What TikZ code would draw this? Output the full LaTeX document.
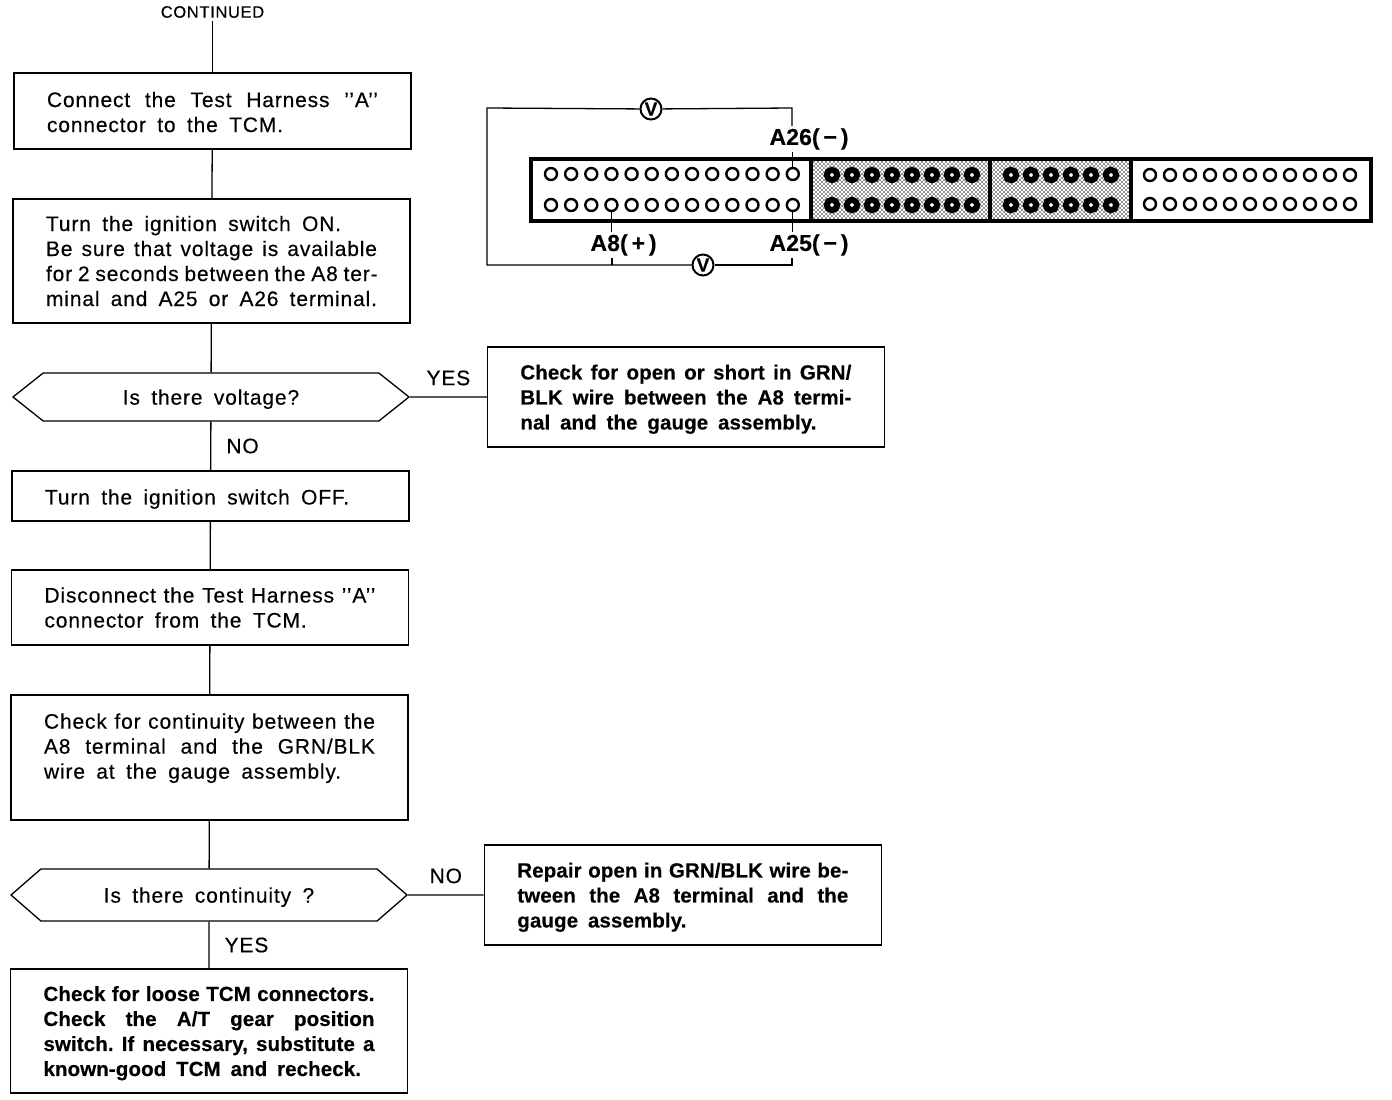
\documentclass[tikz,border=0pt]{standalone}
\usepackage{fontspec}
\setmainfont{Liberation Sans}[LetterSpace=4,FakeBold=0.3,WordSpace={1.7,1,2.5},
  BoldFeatures={LetterSpace=0.5,FakeBold=0.3,WordSpace={1.7,1,2.5}}]
\usetikzlibrary{positioning,shapes.symbols,patterns}
\pgfdeclarepatternformonly{grit}{\pgfqpoint{-1pt}{-1pt}}{\pgfqpoint{3pt}{3pt}}{\pgfqpoint{4pt}{4pt}}{
  \pgfpathrectangle{\pgfqpoint{-0.7pt}{-0.7pt}}{\pgfqpoint{1.4pt}{1.4pt}}
  \pgfpathrectangle{\pgfqpoint{1.3pt}{1.3pt}}{\pgfqpoint{1.4pt}{1.4pt}}
  \pgfusepath{fill}}
\tolerance=9999
\frenchspacing

\begin{document}
\begin{tikzpicture}%
  [x=1pt,y=-1pt,node distance=48.7pt,
   txt/.style=
    {font=\fontsize{21}{25}\selectfont},
   drop/.style={execute at begin node={\rule{0pt}{#1}}},
   step box/.style=
    {draw,txt,line width=1.3pt,text width=331pt,inner xsep=33pt,inner ysep=0pt,align=justify},
   fix box/.style=
    {step box,drop=19.3pt,font=\fontsize{20.5}{25}\selectfont\bfseries},
   question/.style=
    {draw,txt,line width=1.3pt,shape=signal,signal to=east and west,signal pointer angle=77,
     minimum width=396pt,minimum height=48pt,inner ysep=0pt,inner xsep=0pt,text depth=0pt},
   flow/.style={line width=1.3pt},
   answer/.style={txt,inner xsep=15pt,inner ysep=11pt},
   terminal/.style={font=\fontsize{23}{25}\selectfont\bfseries,inner xsep=0pt,inner ysep=2pt},
   volt/.style=
    {draw,circle,fill=white,line width=2pt,minimum size=21pt,inner sep=0pt,
     font=\fontsize{19}{19}\selectfont\bfseries},
   hole/.style={draw,circle,line width=2.4pt,minimum size=12pt,inner sep=0pt},
   dark hole/.style={draw,circle,fill=white,line width=6pt,minimum size=10.5pt,inner sep=0pt}
  ]
  \useasboundingbox (0,0) rectangle (1392,1100);
  % flow chart
  \node[font=\fontsize{16.5}{16.5}\selectfont,inner sep=3pt] (cont) at (212.5,12) {CONTINUED};
  \node[step box,drop=17.3pt,minimum height=76pt] (connect) at (212.5,111)
    {Connect the Test Harness '{}'A'{}'\linebreak connector to the TCM.};
  \node[step box,minimum height=124pt,below=of connect,xshift=-1pt] (ign)
    {Turn the ignition switch ON.\\ Be sure that voltage is available\linebreak
     for 2 seconds between the A8 ter-\linebreak minal and A25 or A26 terminal.};
  \node[question,below=of ign,xshift=-0.5pt] (volts) {Is there voltage?};
  \node[step box,drop=21.3pt,minimum height=50pt,below=of volts,xshift=-0.5pt] (off)
    {Turn the ignition switch OFF.};
  \node[step box,minimum height=75pt,below=47.7pt of off,xshift=-0.5pt] (disc)
    {Disconnect the Test Harness '{}'A'{}'\linebreak connector from the TCM.};
  \node[step box,drop=17.3pt,minimum height=125pt,below=of disc,xshift=-0.5pt] (cont chk)
    {Check for continuity between the\linebreak A8 terminal and the GRN/BLK\linebreak
     wire at the gauge assembly.\\ \mbox{}};
  \node[question,minimum height=52pt,signal pointer angle=82,below=47.7pt of cont chk,xshift=-0.5pt] (cont q)
    {Is there continuity ?};
  \node[fix box,minimum height=124pt,below=46.7pt of cont q] (loose)
    {Check for loose TCM connectors.\linebreak Check the A/T gear position\linebreak
     switch. If necessary, substitute a\linebreak known-good TCM and recheck.};
  \node[fix box,minimum height=100pt,right=76.7pt of volts] (short)
    {Check for open or short in GRN/\linebreak BLK wire between the A8 termi-\linebreak
     nal and the gauge assembly.};
  \node[fix box,minimum height=100pt,right=75.7pt of cont q] (open)
    {Repair open in GRN/BLK wire be-\linebreak tween the A8 terminal and the\linebreak
     gauge assembly.};
  \draw[flow] (cont) -- (connect);
  \draw[flow] (connect) -- (ign);
  \draw[flow] (ign) -- (volts);
  \draw[flow] (volts) -- node[answer,right] {NO} (off);
  \draw[flow] (volts) -- node[answer,above] {YES} (short);
  \draw[flow] (off) -- (disc);
  \draw[flow] (disc) -- (cont chk);
  \draw[flow] (cont chk) -- (cont q);
  \draw[flow] (cont q) -- node[answer,right] {YES} (loose);
  \draw[flow] (cont q) -- node[answer,above] {NO} (open);
  % connector
  \fill[pattern=grit] (812,160) rectangle (1130,220);
  \foreach \i in {1,...,13} {
    \node[hole] (top\i) at ({551+(\i-1)*20.15},174) {};
    \node[hole] (bot\i) at ({551+(\i-1)*20.15},205) {};
  }
  \foreach \i in {0,...,7} {
    \node[dark hole] at ({832+\i*20},175) {};
    \node[dark hole] at ({832+\i*20},205) {};
  }
  \foreach \i in {0,...,5} {
    \node[dark hole] at ({1011+\i*20},175) {};
    \node[dark hole] at ({1011+\i*20},205) {};
  }
  \foreach \i in {0,...,10} {
    \node[hole] at ({1150+\i*20},175) {};
    \node[hole] at ({1150+\i*20},204) {};
  }
  \draw[line width=4.5pt] (531,159) rectangle (1371,221);
  \foreach \x in {811,990,1131} \draw[line width=4.5pt] (\x,159) -- (\x,221);
  % test leads
  \node[terminal] (a26) at (809,139) {A26(\,−\,)};
  \node[terminal] (a25) at (809,245) {A25(\,−\,)};
  \node[terminal] (a8) at (623.5,245) {A8(\,+\,)};
  \node[volt] (v1) at (651,109) {V};
  \node[volt] (v2) at (703,265) {V};
  \coordinate (tl) at (487,108);
  \coordinate (tr) at (792,108);
  \coordinate (bl) at (487,265);
  \coordinate (br) at (792,265);
  \coordinate (bm) at (612,265);
  \draw[flow] (v1) -- (tl) -- (bl) -- (v2);
  \draw[flow] (v1) -- (tr) -- (tr|-a26.north);
  \draw[flow] (v2) -- (br) -- (br|-a25.south);
  \draw[flow] (bm) -- (bm|-a8.south);
  \draw[flow] (top13) -- (top13|-a26.south);
  \draw[flow] (bot13) -- (bot13|-a25.north);
  \draw[flow] (bot4) -- (bot4|-a8.north);
\end{tikzpicture}
\end{document}
